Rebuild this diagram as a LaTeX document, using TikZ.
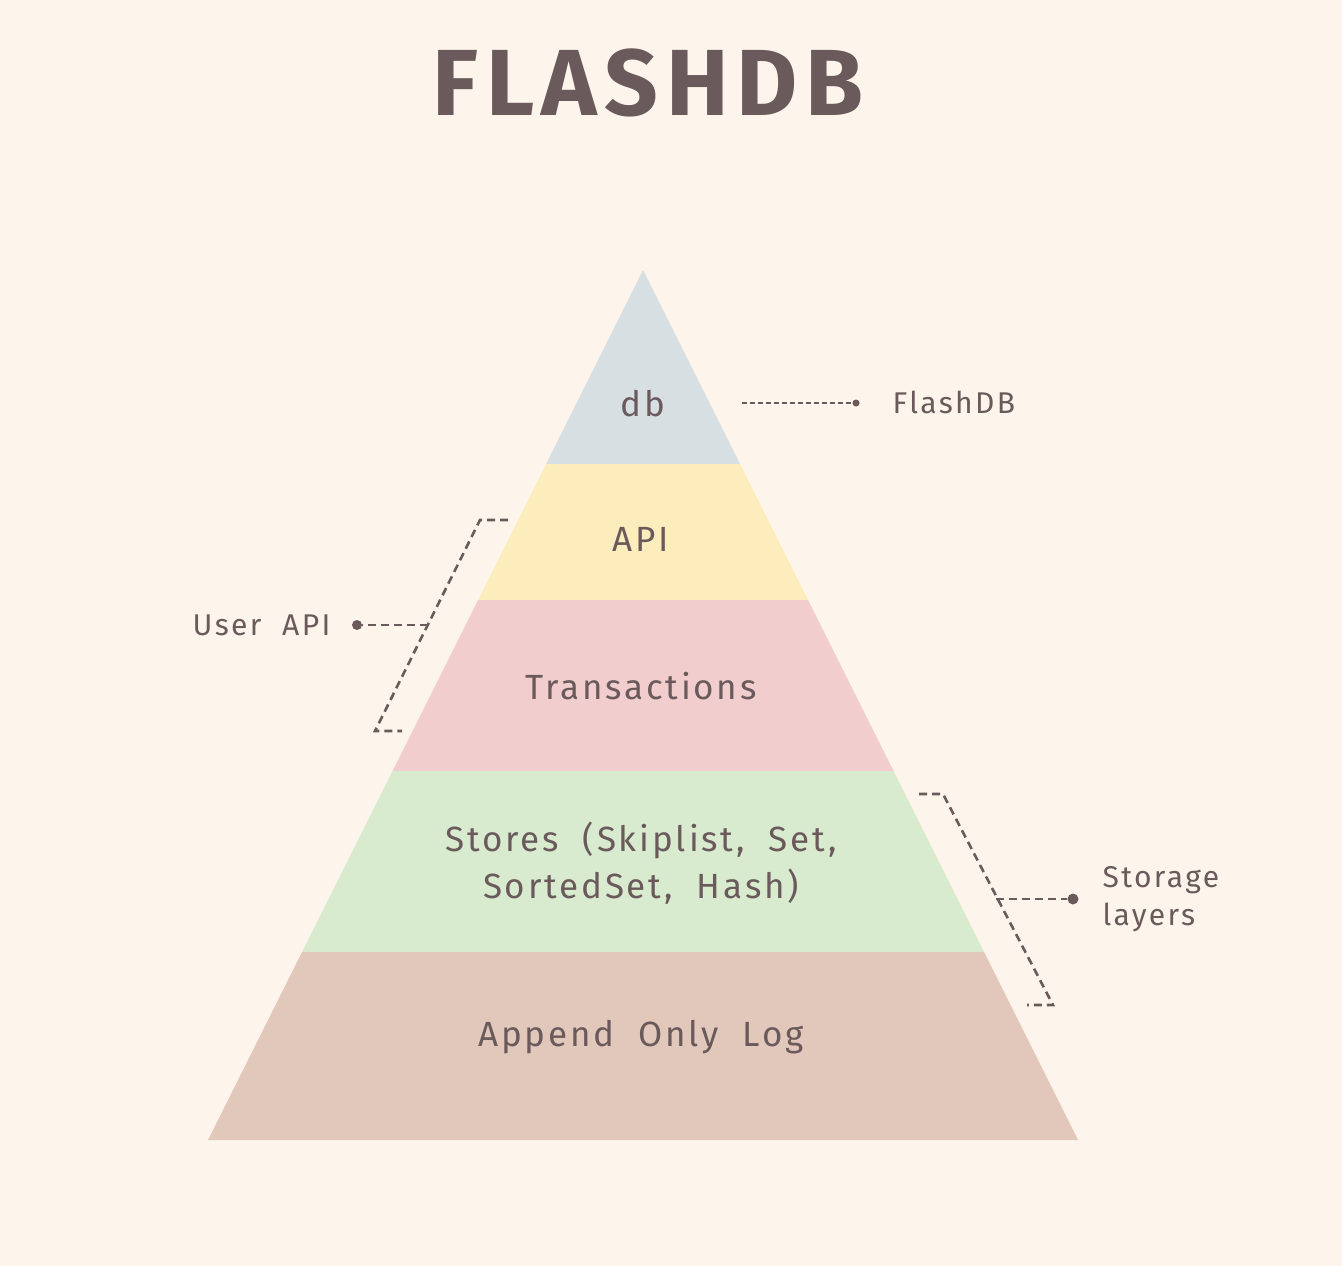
\documentclass[tikz,border=0pt]{standalone}
\usepackage{fontspec}
\setmainfont{Fira Sans}[LetterSpace=8, WordSpace=2]
\newfontfamily\titlefont{Fira Sans}[LetterSpace=8]
\usetikzlibrary{positioning}
\definecolor{paper}{HTML}{FDF5EB}
\definecolor{ink}{HTML}{6A5A5B}
\definecolor{layerdb}{HTML}{D7DFE2}
\definecolor{layerapi}{HTML}{FDEDBC}
\definecolor{layertx}{HTML}{F2CDCD}
\definecolor{layerstore}{HTML}{D8EBCF}
\definecolor{layerlog}{HTML}{E1C8BB}
\tikzstyle{layer}=[text=ink, align=center, font=\fontsize{35}{47}\selectfont]
\tikzstyle{side}=[text=ink, align=left, font=\fontsize{30}{38}\selectfont]
\tikzstyle{brace}=[draw=ink, line width=2.6pt, dash pattern=on 8pt off 5pt]
\tikzstyle{dot}=[circle, fill=ink, inner sep=0pt, minimum size=10pt]

\begin{document}
\begin{tikzpicture}[x=1pt, y=-1pt]
	\fill[paper] (0,0) rectangle (1342,1266);
	\useasboundingbox (0,0) rectangle (1342,1266);
	\node[text=ink, font=\titlefont\bfseries\fontsize{94}{94}\selectfont] (title) at (648,83) {FLASHDB};
	% pyramid layers
	\foreach \t/\b/\c in {270/464/layerdb, 464/600/layerapi, 600/771/layertx, 771/952/layerstore, 952/1140/layerlog}
		\fill[fill=\c] ({643-(\t-270)/2},\t) -- ({643+(\t-270)/2},\t) -- ({643+(\b-270)/2},\b) -- ({643-(\b-270)/2},\b) -- cycle;
	\node[layer] (db) at (643,404) {db};
	\node[layer] (api) at (641,539) {API};
	\node[layer] (tx) at (641,686) {Transactions};
	\node[layer] (stores) at (641,863) {Stores (Skiplist, Set,\\SortedSet, Hash)};
	\node[layer] (log) at (641,1037) {Append Only Log};
	% side labels
	\node[side, anchor=west] (flashdb) at (889,402) {FlashDB};
	\node[side, anchor=east] (userapi) at (334,625) {User API};
	\node[side, anchor=west] (storage) at (1099,899) {Storage\\layers};
	\node[dot, minimum size=7pt] (d1) at (856,403) {};
	\node[dot] (d2) at (357,625) {};
	\node[dot, minimum size=11pt] (d3) at (1073,899) {};
	\coordinate (f1) at (742,403);
	\coordinate (ub) at (427.5,625);
	\coordinate (sb) at (996,899);
	\draw[ink, line width=1.8pt, dash pattern=on 5pt off 3pt] (f1) -- (d1);
	\path[brace] (508,520) -- (480,520) -- (375,731) -- (402,731);
	\path[brace] (ub) -- (d2);
	\path[brace] (919,794) -- (943,794) -- (1053,1005) -- (1027,1005);
	\path[brace] (sb) -- (d3);
\end{tikzpicture}
\end{document}
